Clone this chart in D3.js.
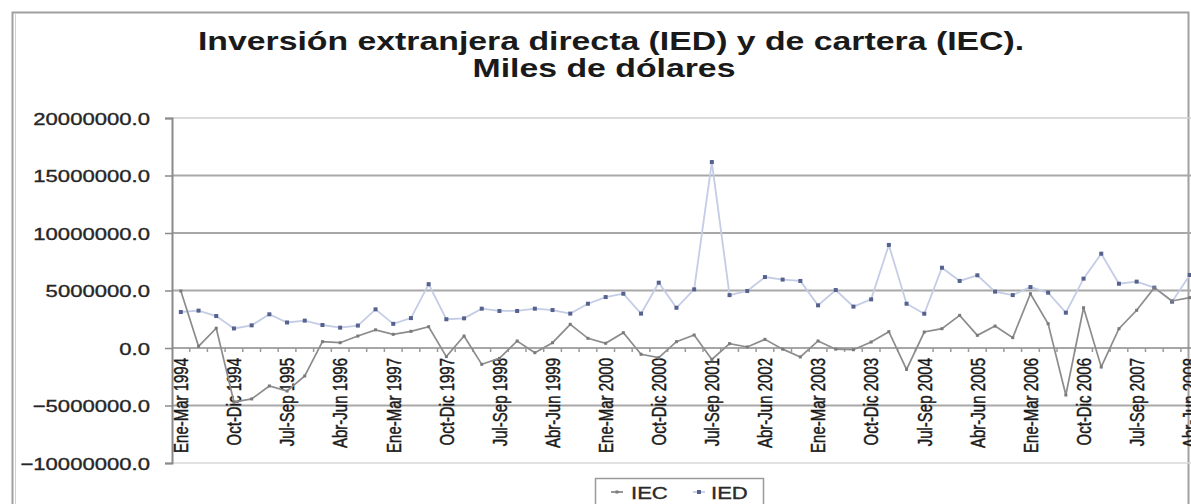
<!DOCTYPE html>
<html>
<head>
<meta charset="utf-8">
<script src="https://cdn.jsdelivr.net/npm/d3@7"></script>
<style>
  html, body { margin: 0; padding: 0; background: #fff; }
  svg { display: block; font-family: "Liberation Sans", Arial, sans-serif; }
</style>
</head>
<body>
<svg id="chart" width="1191" height="504"></svg>
<script>
// ---------------- DATA ----------------
const titleLines = ["Inversión extranjera directa (IED) y de cartera (IEC).", "Miles de dólares"];

const categories = [
  "Ene-Mar 1994","Abr-Jun 1994","Jul-Sep 1994","Oct-Dic 1994",
  "Ene-Mar 1995","Abr-Jun 1995","Jul-Sep 1995","Oct-Dic 1995",
  "Ene-Mar 1996","Abr-Jun 1996","Jul-Sep 1996","Oct-Dic 1996",
  "Ene-Mar 1997","Abr-Jun 1997","Jul-Sep 1997","Oct-Dic 1997",
  "Ene-Mar 1998","Abr-Jun 1998","Jul-Sep 1998","Oct-Dic 1998",
  "Ene-Mar 1999","Abr-Jun 1999","Jul-Sep 1999","Oct-Dic 1999",
  "Ene-Mar 2000","Abr-Jun 2000","Jul-Sep 2000","Oct-Dic 2000",
  "Ene-Mar 2001","Abr-Jun 2001","Jul-Sep 2001","Oct-Dic 2001",
  "Ene-Mar 2002","Abr-Jun 2002","Jul-Sep 2002","Oct-Dic 2002",
  "Ene-Mar 2003","Abr-Jun 2003","Jul-Sep 2003","Oct-Dic 2003",
  "Ene-Mar 2004","Abr-Jun 2004","Jul-Sep 2004","Oct-Dic 2004",
  "Ene-Mar 2005","Abr-Jun 2005","Jul-Sep 2005","Oct-Dic 2005",
  "Ene-Mar 2006","Abr-Jun 2006","Jul-Sep 2006","Oct-Dic 2006",
  "Ene-Mar 2007","Abr-Jun 2007","Jul-Sep 2007","Oct-Dic 2007",
  "Ene-Mar 2008","Abr-Jun 2008"
];

// Labels shown on the category axis (every third quarter)
const xTickLabels = [
  "Ene-Mar 1994","Oct-Dic 1994","Jul-Sep 1995","Abr-Jun 1996","Ene-Mar 1997",
  "Oct-Dic 1997","Jul-Sep 1998","Abr-Jun 1999","Ene-Mar 2000","Oct-Dic 2000",
  "Jul-Sep 2001","Abr-Jun 2002","Ene-Mar 2003","Oct-Dic 2003","Jul-Sep 2004",
  "Abr-Jun 2005","Ene-Mar 2006","Oct-Dic 2006","Jul-Sep 2007","Abr-Jun 2008"
];

// IEC (cartera), miles de dólares
const iecValues = [
  4960000, 150000, 1720000, -4700000,
  -4430000, -3300000, -3740000, -2430000,
  550000, 460000, 1040000, 1580000,
  1190000, 1450000, 1850000, -750000,
  1040000, -1420000, -900000, 610000,
  -410000, 460000, 2060000, 840000,
  410000, 1330000, -550000, -840000,
  550000, 1130000, -990000, 380000,
  90000, 750000, -100000, -780000,
  610000, -100000, -150000, 520000,
  1420000, -1860000, 1390000, 1680000,
  2840000, 1100000, 1910000, 900000,
  4720000, 2110000, -4090000, 3500000,
  -1650000, 1680000, 3280000, 5250000,
  4090000, 4380000
];

// IED (directa), miles de dólares
const iedValues = [
  3130000, 3250000, 2780000, 1700000,
  1970000, 2930000, 2220000, 2380000,
  2000000, 1770000, 1950000, 3360000,
  2100000, 2600000, 5550000, 2500000,
  2580000, 3420000, 3220000, 3220000,
  3420000, 3300000, 2990000, 3850000,
  4430000, 4720000, 2990000, 5680000,
  3500000, 5100000, 16170000, 4600000,
  4960000, 6170000, 5950000, 5830000,
  3710000, 5040000, 3600000, 4230000,
  8960000, 3850000, 2980000, 6980000,
  5830000, 6320000, 4900000, 4600000,
  5300000, 4810000, 3070000, 6030000,
  8200000, 5590000, 5770000, 5250000,
  4030000, 6350000
];

const yTicks = [-10000000, -5000000, 0, 5000000, 10000000, 15000000, 20000000];
const seriesNames = ["IEC", "IED"];

// ---------------- DRAW ----------------
const svg = d3.select("#chart");
const W = 1191, H = 504;
const plot = { left: 172, top: 118, bottom: 463, step: 17.7 };

const x = d3.scaleBand()
  .domain(categories)
  .range([plot.left, plot.left + plot.step * categories.length])
  .paddingInner(0).paddingOuter(0);
const cx = d => x(d) + x.bandwidth() / 2;

const y = d3.scaleLinear()
  .domain([yTicks[0], yTicks[yTicks.length - 1]])
  .range([plot.bottom, plot.top]);

// outer frame
svg.append("rect")
  .attr("x", 12.5).attr("y", 12.5)
  .attr("width", 1176).attr("height", 520)
  .attr("fill", "none").attr("stroke", "#a0a0a0").attr("stroke-width", 2);
svg.append("line")
  .attr("x1", 15.5).attr("x2", 15.5).attr("y1", 14).attr("y2", H)
  .attr("stroke", "#d0d0d0").attr("stroke-width", 1);

// title
const title = svg.append("g").attr("class", "title");
[[titleLines[0], 611, 50], [titleLines[1], 604, 77]].forEach(([t, tx, ty]) => {
  title.append("text")
    .attr("transform", `translate(${tx},${ty}) scale(1.3,1)`)
    .attr("text-anchor", "middle")
    .attr("font-size", 26)
    .attr("font-weight", "bold")
    .attr("fill", "#1a1a1a")
    .text(t);
});

// gridlines
const gridColor = v => (v === yTicks[yTicks.length - 1] ? "#cfcfcf" : v === yTicks[0] ? "#d8d8d8" : "#a8a8a8");
svg.append("g").attr("class", "grid")
  .selectAll("line")
  .data(yTicks.filter(v => v !== 0))
  .join("line")
  .attr("x1", plot.left).attr("x2", W)
  .attr("y1", d => y(d)).attr("y2", d => y(d))
  .attr("stroke", gridColor)
  .attr("stroke-width", d => (d === yTicks[0] || d === yTicks[yTicks.length - 1]) ? 1.5 : 2);

// y axis
const yAxis = svg.append("g")
  .attr("transform", `translate(${plot.left},0)`)
  .call(d3.axisLeft(y).tickValues(yTicks).tickSize(7).tickFormat(d3.format(".1f")));
yAxis.select(".domain").attr("stroke", "#8a8a8a").attr("stroke-width", 2);
yAxis.selectAll(".tick line").attr("stroke", "#8a8a8a").attr("stroke-width", 1.5);
yAxis.selectAll(".tick text")
  .attr("x", 0)
  .attr("dy", "0.36em")
  .attr("transform", "translate(-22,0) scale(1.3,1)")
  .attr("text-anchor", "end")
  .attr("font-size", 17)
  .attr("font-family", "'Liberation Sans', Arial, sans-serif")
  .attr("fill", "#262626")
  .attr("stroke", "#262626")
  .attr("stroke-width", 0.35);

// x axis line at zero with category boundary ticks
const y0 = y(0);
const xAxis = svg.append("g").attr("class", "x-axis");
xAxis.append("line")
  .attr("x1", plot.left).attr("x2", W)
  .attr("y1", y0).attr("y2", y0)
  .attr("stroke", "#8a8a8a").attr("stroke-width", 1.6);
xAxis.selectAll("line.tk")
  .data(categories)
  .join("line")
  .attr("class", "tk")
  .attr("x1", d => x(d) + x.bandwidth()).attr("x2", d => x(d) + x.bandwidth())
  .attr("y1", y0).attr("y2", y0 + 4)
  .attr("stroke", "#9a9a9a").attr("stroke-width", 1.5);

// x tick labels (rotated, at the bottom)
svg.append("g").attr("class", "x-labels")
  .selectAll("text")
  .data(xTickLabels)
  .join("text")
  .attr("transform", d => `translate(${cx(d)},358) scale(1.35,1) rotate(-90)`)
  .attr("text-anchor", "end")
  .attr("dy", "0.36em")
  .attr("font-size", 15)
  .attr("fill", "#1a1a1a")
  .attr("stroke", "#1a1a1a")
  .attr("stroke-width", 0.35)
  .text(d => d);

// series
const iecColor = "#8c8c8c", iecMarker = "#7a7a7a";
const iedColor = "#c4cce6", iedMarker = "#56628e";

const iedData = categories.map((c, i) => ({ c, v: iedValues[i] }));
const iecData = categories.map((c, i) => ({ c, v: iecValues[i] }));
const line = d3.line().x(d => cx(d.c)).y(d => y(d.v));

svg.append("path").datum(iedData)
  .attr("d", line).attr("fill", "none")
  .attr("stroke", iedColor).attr("stroke-width", 1.8);
svg.append("g").selectAll("rect")
  .data(iedData).join("rect")
  .attr("x", d => cx(d.c) - 2).attr("y", d => y(d.v) - 2)
  .attr("width", 4).attr("height", 4)
  .attr("fill", iedMarker);

svg.append("path").datum(iecData)
  .attr("d", line).attr("fill", "none")
  .attr("stroke", iecColor).attr("stroke-width", 1.7);
svg.append("g").selectAll("rect")
  .data(iecData).join("rect")
  .attr("x", d => cx(d.c) - 1.5).attr("y", d => y(d.v) - 1.5)
  .attr("width", 3).attr("height", 3)
  .attr("fill", iecMarker);

// legend
const lg = svg.append("g").attr("class", "legend");
lg.append("rect")
  .attr("x", 595.5).attr("y", 478.5).attr("width", 168).attr("height", 40)
  .attr("fill", "#fff").attr("stroke", "#9a9a9a").attr("stroke-width", 1.5);
const legendItems = [
  { name: seriesNames[0], sx: 611, tx: 631, color: iecColor, marker: iecMarker, m: 3 },
  { name: seriesNames[1], sx: 693, tx: 711, color: iedColor, marker: iedMarker, m: 4 }
];
legendItems.forEach(it => {
  lg.append("line")
    .attr("x1", it.sx).attr("x2", it.sx + 12)
    .attr("y1", 492).attr("y2", 492)
    .attr("stroke", it.color).attr("stroke-width", 1.8);
  lg.append("rect")
    .attr("x", it.sx + 6 - it.m / 2).attr("y", 492 - it.m / 2)
    .attr("width", it.m).attr("height", it.m)
    .attr("fill", it.marker);
  lg.append("text")
    .attr("transform", `translate(${it.tx},499) scale(1.3,1)`)
    .attr("font-size", 17)
    .attr("fill", "#2a2a2a")
    .attr("stroke", "#2a2a2a")
    .attr("stroke-width", 0.35)
    .text(it.name);
});
</script>
</body>
</html>
